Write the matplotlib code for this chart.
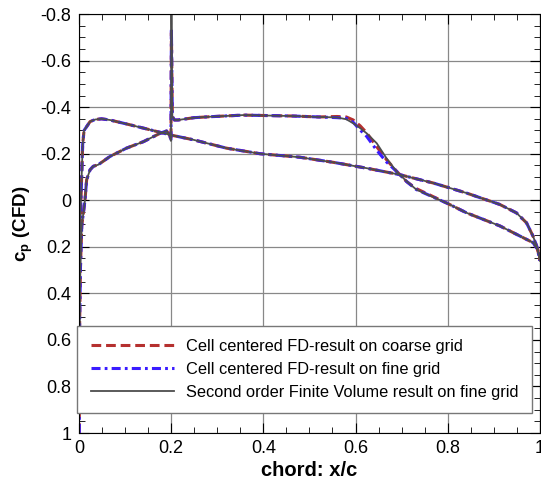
import matplotlib
matplotlib.use("Agg")
import matplotlib.pyplot as plt
from matplotlib.ticker import AutoMinorLocator

plt.rcParams['font.family'] = ['Liberation Sans', 'DejaVu Sans']
plt.rcParams['mathtext.fontset'] = 'custom'
plt.rcParams['mathtext.rm'] = 'Liberation Sans'
plt.rcParams['mathtext.it'] = 'Liberation Sans:italic'
plt.rcParams['mathtext.bf'] = 'Liberation Sans:bold'
plt.rcParams['lines.scale_dashes'] = False

# surface with the suction peak near the leading edge (same for all three runs)
x_a = [0.0, 0.0008, 0.002, 0.005, 0.008, 0.011, 0.024, 0.035, 0.049, 0.067, 0.103,
       0.14, 0.2, 0.248, 0.32, 0.393, 0.479, 0.552, 0.624, 0.696, 0.769, 0.841,
       0.913, 0.949, 0.971, 0.985, 0.993, 1.0]
cp_a = [1.0, 0.55, 0.15, -0.05, -0.24, -0.30, -0.338, -0.347, -0.35, -0.345, -0.328,
        -0.31, -0.28, -0.26, -0.224, -0.2, -0.185, -0.163, -0.138, -0.11, -0.074, -0.031,
        0.018, 0.054, 0.097, 0.154, 0.197, 0.25]

# surface with the spike at x/c=0.2, plateau and shock
x_b = [0.0, 0.001, 0.003, 0.006, 0.013, 0.0166, 0.024, 0.031, 0.042, 0.067, 0.103,
       0.14, 0.176, 0.19, 0.197, 0.1995, 0.2005, 0.2025, 0.207, 0.215, 0.25, 0.284,
       0.356, 0.465, 0.52, 0.56, 0.58, 0.595, 0.61, 0.624, 0.646, 0.667, 0.689,
       0.711, 0.732, 0.8, 0.841, 0.913, 0.971, 0.985, 0.995, 1.0]
cp_b_fv = [1.0, 0.6, 0.3, 0.11, 0.0, -0.088, -0.131, -0.146, -0.153, -0.188, -0.224,
           -0.252, -0.288, -0.298, -0.28, -0.255, -0.85, -0.36, -0.345, -0.345, -0.355, -0.359,
           -0.366, -0.362, -0.358, -0.356, -0.348, -0.331, -0.31, -0.288, -0.245, -0.181, -0.124,
           -0.081, -0.046, 0.014, 0.054, 0.11, 0.168, 0.182, 0.21, 0.26]
cp_b_coarse = [1.0, 0.6, 0.3, 0.11, 0.0, -0.088, -0.131, -0.146, -0.153, -0.188, -0.224,
               -0.252, -0.288, -0.298, -0.28, -0.255, -0.72, -0.36, -0.345, -0.345, -0.355, -0.359,
               -0.366, -0.362, -0.358, -0.36, -0.358, -0.345, -0.32, -0.29, -0.23, -0.175, -0.125,
               -0.08, -0.05, 0.014, 0.054, 0.11, 0.168, 0.182, 0.21, 0.26]
cp_b_fine = [1.0, 0.6, 0.3, 0.11, 0.0, -0.088, -0.131, -0.146, -0.153, -0.188, -0.224,
             -0.252, -0.288, -0.298, -0.28, -0.255, -0.74, -0.36, -0.345, -0.345, -0.355, -0.359,
             -0.366, -0.362, -0.358, -0.355, -0.352, -0.335, -0.302, -0.275, -0.215, -0.165, -0.124,
             -0.08, -0.046, 0.014, 0.054, 0.11, 0.168, 0.182, 0.21, 0.26]

labels = ["Cell centered FD-result on coarse grid",
          "Cell centered FD-result on fine grid",
          "Second order Finite Volume result on fine grid"]

x_ticks = [0, 0.2, 0.4, 0.6, 0.8, 1]
x_ticklabels = ['0', '0.2', '0.4', '0.6', '0.8', '1']
y_ticks = [-0.8, -0.6, -0.4, -0.2, 0, 0.2, 0.4, 0.6, 0.8, 1]
y_ticklabels = ['-0.8', '-0.6', '-0.4', '-0.2', '0', '0.2', '0.4', '0.6', '0.8', '1']

fig = plt.figure(figsize=(5.41, 4.86), dpi=100)
ax = fig.add_axes([0.146, 0.109, 0.852, 0.862])

red = '#b5302f'
blue = '#3a1cff'
grey = '#4d4d4d'

# coarse grid (red dashed)
ax.plot(x_a, cp_a, color=red, lw=2.2, linestyle=(0, (7, 3.5)), label=labels[0])
ax.plot(x_b, cp_b_coarse, color=red, lw=2.2, linestyle=(0, (7, 3.5)))
# fine grid (blue dash-dot)
ax.plot(x_a, cp_a, color=blue, lw=2.2, linestyle=(0, (6.5, 3, 2, 3)), label=labels[1])
ax.plot(x_b, cp_b_fine, color=blue, lw=2.2, linestyle=(0, (6.5, 3, 2, 3)))
# finite volume (solid)
ax.plot(x_a, cp_a, color=grey, lw=1.3, label=labels[2])
ax.plot(x_b, cp_b_fv, color=grey, lw=1.3)

ax.set_xticks(x_ticks)
ax.set_xticklabels(x_ticklabels)
ax.set_yticks(y_ticks)
ax.set_yticklabels(y_ticklabels)
ax.set_xlim(0, 1)
ax.set_ylim(1, -0.8)
ax.xaxis.set_minor_locator(AutoMinorLocator(4))
ax.yaxis.set_minor_locator(AutoMinorLocator(4))
ax.tick_params(which='both', direction='in', top=True, right=True, labelsize=13)
ax.tick_params(which='major', length=7)
ax.tick_params(which='minor', length=4)
ax.tick_params(axis='x', pad=5)
ax.tick_params(axis='y', pad=5.5)
ax.grid(True, which='major', color='#888888', lw=0.9)
ax.set_axisbelow(True)

ax.set_xlabel("chord: x/c", fontsize=14.5, fontweight='bold', labelpad=3)
ax.set_ylabel(r"$\mathbf{c_p}$ (CFD)", fontsize=13.5, fontweight='bold', labelpad=4)

leg = ax.legend(loc='lower right', bbox_to_anchor=(0.983, 0.048), fontsize=11.8,
                handlelength=5.1, handletextpad=0.75, labelspacing=0.48,
                borderpad=0.8, fancybox=False, framealpha=1, borderaxespad=0)
leg.get_frame().set_edgecolor('#777777')
leg.get_frame().set_linewidth(1.0)

plt.savefig("out.png", dpi=100)
